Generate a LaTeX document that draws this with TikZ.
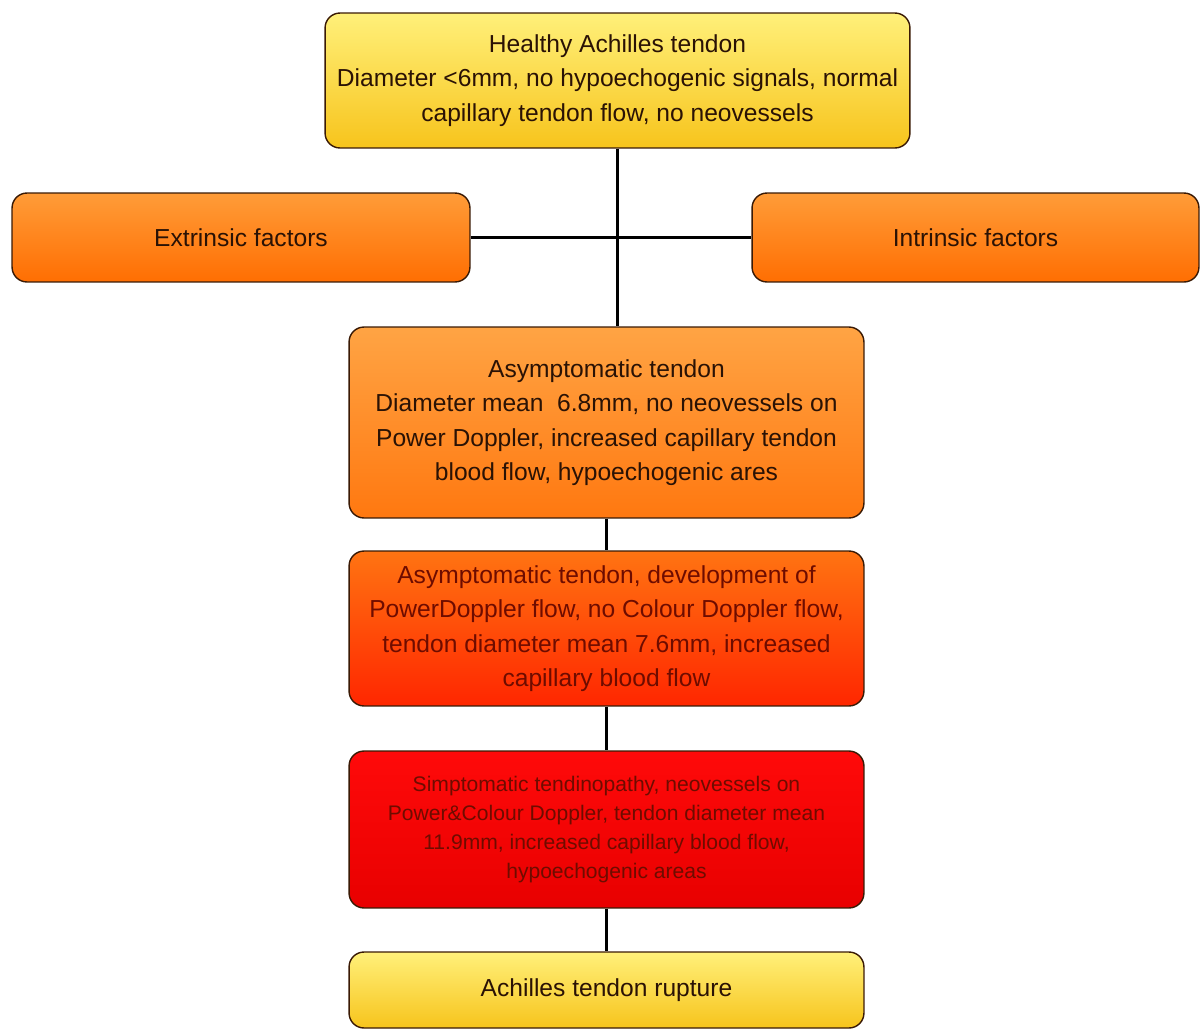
\documentclass[tikz,border=0pt]{standalone}
\usepackage{fontspec}
\setmainfont{Liberation Sans}
\usepackage{tikz}
\usetikzlibrary{positioning}

\definecolor{boxLine}{HTML}{3A1A05}
\definecolor{yellowTop}{HTML}{FFF07A}
\definecolor{yellowBottom}{HTML}{F7C41C}
\definecolor{orangeTop}{HTML}{FF9C38}
\definecolor{orangeBottom}{HTML}{FF6E02}
\definecolor{asymTop}{HTML}{FFA444}
\definecolor{asymBottom}{HTML}{FF7810}
\definecolor{devTop}{HTML}{FF7412}
\definecolor{devBottom}{HTML}{FF2600}
\definecolor{redTop}{HTML}{FF0A0A}
\definecolor{redBottom}{HTML}{E80000}
\definecolor{darkText}{HTML}{2A1205}
\definecolor{redText}{HTML}{6E0C00}

\begin{document}
\begin{tikzpicture}[%
    x=0.02cm, y=-0.02cm,
    stage/.style={%
        draw=boxLine,
        line width=0.8pt,
        rounded corners=0.3cm,
        align=center,
        inner sep=2pt,
        text=darkText,
        font=\fontsize{14}{19.6}\selectfont
    },
    yellowStage/.style={%
        stage,
        top color=yellowTop,
        bottom color=yellowBottom
    },
    factor/.style={%
        stage,
        minimum width=9cm,
        minimum height=1.78cm,
        top color=orangeTop,
        bottom color=orangeBottom
    },
    wideStage/.style={%
        stage,
        minimum width=10.3cm
    },
    link/.style={%
        line width=1.7pt,
        draw=black
    }
]

\useasboundingbox (0,0) rectangle (1201,1032);

% Healthy tendon
    \node[yellowStage, minimum width=11.7cm, minimum height=2.7cm] (healthy) at (617.5,80.5)
        {Healthy Achilles tendon\\Diameter <6mm, no hypoechogenic signals, normal\\capillary tendon flow, no neovessels};

% Factors
    \node[factor, minimum width=9.16cm] (extrinsic) at (241,237.5) {Extrinsic factors};
    \node[factor, minimum width=8.94cm] (intrinsic) at (975.5,237.5) {Intrinsic factors};

% Asymptomatic stages
    \node[wideStage, minimum height=3.82cm, top color=asymTop, bottom color=asymBottom] (asymptomatic) at (606.5,422.5)
        {Asymptomatic tendon\\Diameter mean \ 6.8mm, no neovessels on\\Power Doppler, increased capillary tendon\\blood flow, hypoechogenic ares};
    \node[wideStage, minimum height=3.1cm, top color=devTop, bottom color=devBottom, text=redText] (development) at (606.5,628.5)
        {Asymptomatic tendon, development of\\PowerDoppler flow, no Colour Doppler flow,\\tendon diameter mean 7.6mm, increased\\capillary blood flow};

% Symptomatic stage
    \node[wideStage, minimum height=3.14cm, top color=redTop, bottom color=redBottom, text=redText,
          font=\fontsize{12}{16.5}\selectfont] (symptomatic) at (606.5,829.5)
        {Simptomatic tendinopathy, neovessels on\\Power\&Colour Doppler, tendon diameter mean\\11.9mm, increased capillary blood flow,\\hypoechogenic areas};

% Rupture
    \node[yellowStage, wideStage, minimum height=1.52cm] (rupture) at (606.5,990) {Achilles tendon rupture};

% Connectors
\draw[link] (healthy.south) -- (healthy.south |- asymptomatic.north);
\draw[link] (extrinsic.east) -- (intrinsic.west);

\draw[link] (asymptomatic.south) -- (development.north);
\draw[link] (development.south) -- (symptomatic.north);
\draw[link] (symptomatic.south) -- (rupture.north);

\end{tikzpicture}
\end{document}
